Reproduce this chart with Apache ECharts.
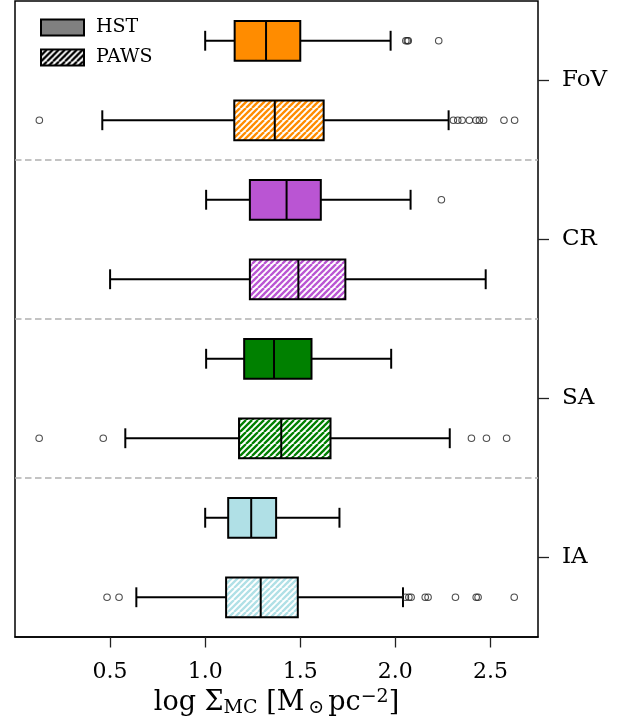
<!DOCTYPE html>
<html>
<head>
<meta charset="utf-8">
<script src="https://cdn.jsdelivr.net/npm/echarts@6/dist/echarts.min.js"></script>
<style>
  html, body { margin: 0; padding: 0; background: #fff; }
  #chart { width: 630px; height: 720px; }
</style>
</head>
<body>
<div id="chart"></div>
<script>
// Regions (top to bottom) and the two surveys compared in each
const groups = ['FoV', 'CR', 'SA', 'IA'];
const surveys = ['HST', 'PAWS'];
const groupColors = ['#ff8c00', '#ba55d3', '#008000', '#b0e0e6'];
const xTicks = [0.5, 1.0, 1.5, 2.0, 2.5];

// Five-number summaries: [lower whisker, Q1, median, Q3, upper whisker]
const hstStats = [
  [1.000, 1.155, 1.320, 1.500, 1.975],
  [1.005, 1.235, 1.428, 1.608, 2.080],
  [1.005, 1.205, 1.362, 1.559, 1.978],
  [1.000, 1.121, 1.242, 1.373, 1.706]
];
const pawsStats = [
  [0.459, 1.153, 1.366, 1.623, 2.280],
  [0.500, 1.235, 1.490, 1.737, 2.475],
  [0.580, 1.178, 1.400, 1.659, 2.286],
  [0.638, 1.110, 1.292, 1.487, 2.040]
];

// Points beyond the whiskers
const hstOutliers = [
  [2.055, 2.063, 2.068, 2.228],
  [2.242],
  [],
  []
];
const pawsOutliers = [
  [0.128, 2.305, 2.328, 2.351, 2.389, 2.424, 2.442, 2.464, 2.571, 2.627],
  [],
  [0.127, 0.464, 2.400, 2.479, 2.585],
  [0.484, 0.547, 2.053, 2.071, 2.083, 2.157, 2.172, 2.316, 2.425, 2.435, 2.625]
];

const FONT = "'DejaVu Serif', serif";
const X_MIN = 0, X_MAX = 2.75, ROWS = 8;

// Diagonal "////" stripes on white, used as a repeating fill
function hatchCanvas(color) {
  const T = 12;
  const c = document.createElement('canvas');
  c.width = T; c.height = T;
  const ctx = c.getContext('2d');
  ctx.fillStyle = '#fff';
  ctx.fillRect(0, 0, T, T);
  ctx.strokeStyle = color;
  ctx.lineWidth = 2.3;
  for (let k = -3; k <= 3; k++) {
    const x0 = k * T / 2;
    ctx.beginPath();
    ctx.moveTo(x0, T);
    ctx.lineTo(x0 + T, 0);
    ctx.stroke();
  }
  return c;
}
const hatchFills = groupColors.map(c => ({ type: 'pattern', image: hatchCanvas(c), repeat: 'repeat' }));

// Each group occupies two rows on the hidden value axis (0 at the bottom, 8 at the top)
const rowOf = (gi, si) => ROWS - (2 * gi + si + 0.5);

const hstRows = hstStats.map((s, i) => [rowOf(i, 0), ...s, i, 0]);
const pawsRows = pawsStats.map((s, i) => [rowOf(i, 1), ...s, i, 1]);
const hstFliers = hstOutliers.flatMap((arr, i) => arr.map(v => [v, rowOf(i, 0)]));
const pawsFliers = pawsOutliers.flatMap((arr, i) => arr.map(v => [v, rowOf(i, 1)]));
const separators = groups.slice(1).map((_, i) => ({ yAxis: ROWS - 2 * (i + 1) }));

function renderBox(params, api) {
  const y = api.value(0);
  const gi = api.value(6);
  const hatched = api.value(7) === 1;
  const pts = [1, 2, 3, 4, 5].map(k => api.coord([api.value(k), y]));
  const cy = pts[0][1];
  const h = api.size([0, 0.5])[1];
  const capHalf = h / 4;
  const line = { stroke: '#000', lineWidth: 2 };
  return {
    type: 'group',
    children: [
      { type: 'line', shape: { x1: pts[0][0], y1: cy, x2: pts[1][0], y2: cy }, style: line },
      { type: 'line', shape: { x1: pts[3][0], y1: cy, x2: pts[4][0], y2: cy }, style: line },
      { type: 'line', shape: { x1: pts[0][0], y1: cy - capHalf, x2: pts[0][0], y2: cy + capHalf }, style: line },
      { type: 'line', shape: { x1: pts[4][0], y1: cy - capHalf, x2: pts[4][0], y2: cy + capHalf }, style: line },
      {
        type: 'rect',
        shape: { x: pts[1][0], y: cy - h / 2, width: pts[3][0] - pts[1][0], height: h },
        style: { fill: hatched ? hatchFills[gi] : groupColors[gi], stroke: '#000', lineWidth: 2 }
      },
      { type: 'line', shape: { x1: pts[2][0], y1: cy - h / 2, x2: pts[2][0], y2: cy + h / 2 }, style: line }
    ]
  };
}

const flierStyle = {
  type: 'scatter',
  symbol: 'circle',
  symbolSize: 6.5,
  itemStyle: { color: 'rgba(0,0,0,0)', borderColor: '#222', borderWidth: 1.1 },
  silent: true,
  z: 3
};

const chart = echarts.init(document.getElementById('chart'), null, { renderer: 'canvas' });
chart.setOption({
  animation: false,
  backgroundColor: '#fff',
  grid: {
    left: 15, right: 92, top: 1, bottom: 83,
    outerBoundsMode: 'none',
    containLabel: false,
    show: true, borderColor: '#000', borderWidth: 1.5, backgroundColor: 'rgba(0,0,0,0)'
  },
  legend: {
    orient: 'vertical',
    left: 35, top: 13,
    itemWidth: 43, itemHeight: 16, itemGap: 11,
    icon: 'rect',
    textStyle: { fontFamily: FONT, fontSize: 19, color: '#000', padding: [0, 0, 0, 7] },
    data: [
      { name: surveys[0], itemStyle: { color: '#808080', borderColor: '#000', borderWidth: 2 } },
      { name: surveys[1], itemStyle: { color: { type: 'pattern', image: hatchCanvas('#000'), repeat: 'repeat' }, borderColor: '#000', borderWidth: 2 } }
    ]
  },
  xAxis: {
    type: 'value',
    position: 'bottom',
    min: X_MIN, max: X_MAX,
    axisLine: { show: true, lineStyle: { color: '#000', width: 1.5 } },
    splitLine: { show: false },
    axisTick: { show: true, length: 10.5, customValues: xTicks, lineStyle: { color: '#222', width: 1.3 } },
    axisLabel: {
      customValues: xTicks,
      formatter: v => v.toFixed(1),
      fontFamily: FONT, fontSize: 22, color: '#000', margin: 24
    },
    name: '{a|log Σ}{s|MC}{a| [M}{o|⊙}{a|pc}{p|−2}{a|]}',
    nameLocation: 'middle',
    nameGap: 50,
    nameTextStyle: {
      fontFamily: FONT,
      rich: {
        a: { fontFamily: FONT, fontSize: 27, lineHeight: 30, color: '#000' },
        s: { fontFamily: FONT, fontSize: 19, lineHeight: 18, verticalAlign: 'bottom', color: '#000' },
        o: { fontFamily: FONT, fontSize: 19, lineHeight: 18, verticalAlign: 'bottom', color: '#000', padding: [0, 4, 0, 4] },
        p: { fontFamily: FONT, fontSize: 19, lineHeight: 18, verticalAlign: 'top', color: '#000' }
      }
    }
  },
  yAxis: [
    {
      type: 'value', min: 0, max: ROWS, show: false
    },
    {
      type: 'category', data: groups, inverse: true, position: 'right',
      axisLine: { show: false },
      splitLine: { show: false },
      axisTick: { show: true, alignWithLabel: true, length: 11, lineStyle: { color: '#222', width: 1.3 } },
      axisLabel: { interval: 0, fontFamily: FONT, fontSize: 23, color: '#000', margin: 24 }
    }
  ],
  series: [
    {
      name: surveys[0], type: 'custom', renderItem: renderBox, data: hstRows,
      encode: { x: [1, 2, 3, 4, 5], y: 0 }, yAxisIndex: 0, z: 2,
      itemStyle: { color: '#808080' },
      markLine: {
        silent: true, symbol: ['none', 'none'], label: { show: false },
        lineStyle: { color: '#b0b0b0', type: [6.5, 3.5], width: 1.5 },
        data: separators
      }
    },
    {
      name: surveys[1], type: 'custom', renderItem: renderBox, data: pawsRows,
      encode: { x: [1, 2, 3, 4, 5], y: 0 }, yAxisIndex: 0, z: 2,
      itemStyle: { color: '#000' }
    },
    Object.assign({ name: 'HST fliers', data: hstFliers, yAxisIndex: 0 }, flierStyle),
    Object.assign({ name: 'PAWS fliers', data: pawsFliers, yAxisIndex: 0 }, flierStyle)
  ]
});
</script>
</body>
</html>
